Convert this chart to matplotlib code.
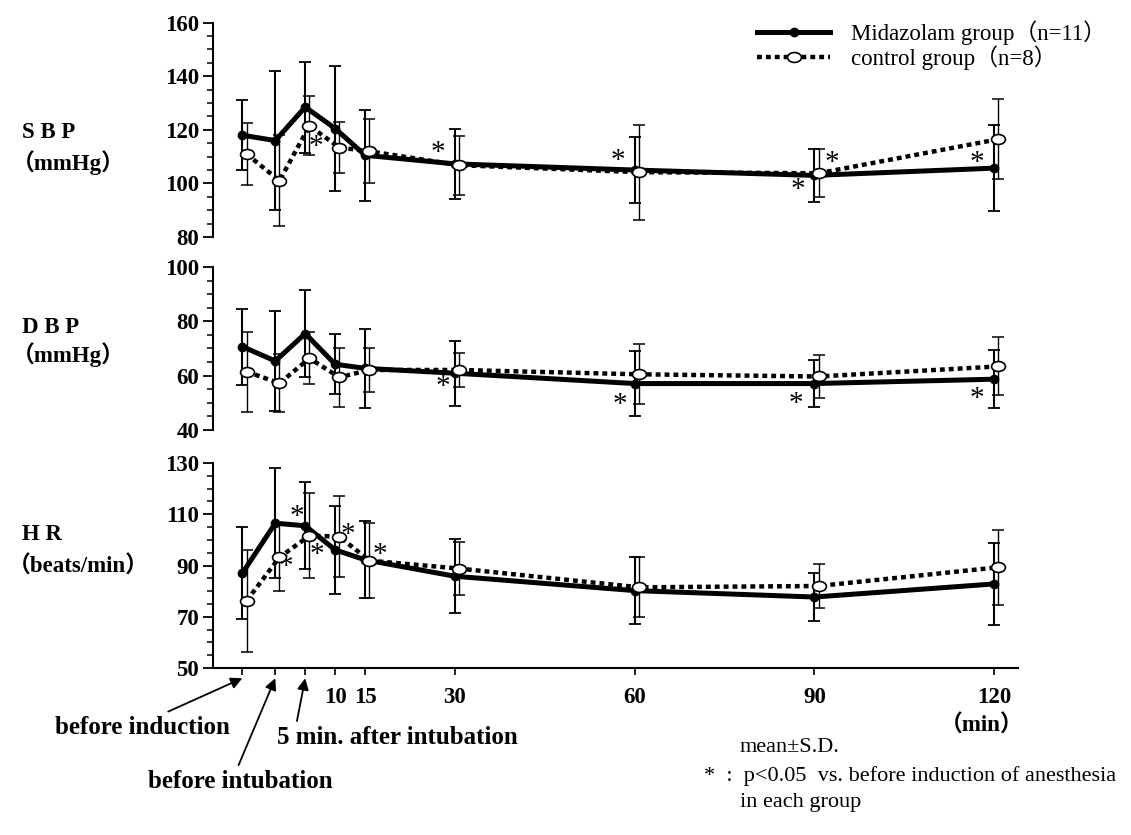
import matplotlib
matplotlib.use("Agg")
import matplotlib.pyplot as plt
import numpy as np
from matplotlib.lines import Line2D
from matplotlib.path import Path
from matplotlib.transforms import Affine2D
from matplotlib.ticker import MultipleLocator

# время: до индукции, до интубации, 5 мин после, 10 ... 120 мин
time_pos = [-5.5, 0, 5, 10, 15, 30, 60, 90, 120]
time_labels = ["", "", "", "10", "15", "30", "60", "90", "120"]

sbp_mid = [118, 116, 128.5, 120.5, 110.5, 107.3, 105, 103, 105.7]
sbp_mid_sd = [13, 26, 17, 23.5, 17, 13, 12.3, 10, 16]
sbp_ctl = [111, 101, 121.5, 113.4, 112, 106.8, 104.2, 103.8, 116.5]
sbp_ctl_sd = [11.5, 17, 11, 9.6, 12, 11, 17.7, 9, 15]

dbp_mid = [70.7, 65.4, 75.5, 64.2, 62.7, 60.9, 57.1, 57.1, 58.7]
dbp_mid_sd = [14, 18.5, 16, 11, 14.5, 12, 12, 8.5, 10.6]
dbp_ctl = [61.5, 57.2, 66.4, 59.4, 62.1, 62.1, 60.5, 59.7, 63.4]
dbp_ctl_sd = [14.7, 10.7, 9.6, 10.8, 8, 6.3, 11, 7.8, 10.7]

hr_mid = [87, 106.5, 105.5, 96.1, 92.2, 85.8, 80.2, 77.7, 82.8]
hr_mid_sd = [18, 21.5, 17, 17.3, 15, 14.5, 13, 9.5, 16]
hr_ctl = [76.2, 93.2, 101.6, 101.3, 91.9, 88.8, 81.5, 82, 89.3]
hr_ctl_sd = [20, 13, 16.5, 15.7, 14.7, 10.3, 11.7, 8.4, 14.6]

# звёздочки p<0.05 (x, y)
sbp_stars = [(6.8, 113.6), (27.2, 111.3), (57.2, 108.4), (87.2, 97.5), (93, 107.6), (117.2, 107.6)]
dbp_stars = [(28, 55.8), (57.5, 49.2), (87, 49.5), (117.2, 51.4)]
hr_stars = [(3.6, 109.1), (1.8, 89.6), (6.9, 94.1), (12.2, 102), (17.5, 94.1)]

W, H = 1131, 835
SERIF = ["Liberation Serif", "Noto Sans CJK JP", "DejaVu Sans"]
CTL_SHIFT = 0.7   # контрольная группа чуть сдвинута вправо, как на оригинале
ellipse = Path.unit_circle().transformed(Affine2D().scale(1.4, 1.0))


def fx(px):
    return px / W


def fy(py):
    return 1 - py / H


def panel(rect, mid, mid_sd, ctl, ctl_sd, ylim, stars, bottom=False):
    ax = fig.add_axes(rect)
    x = np.array(time_pos)
    ax.errorbar(x, mid, yerr=mid_sd, fmt="none", ecolor="black",
                elinewidth=1.5, capsize=4, capthick=1.3, zorder=2)
    ax.errorbar(x + CTL_SHIFT, ctl, yerr=ctl_sd, fmt="none", ecolor="black",
                elinewidth=1.0, capsize=4, capthick=1.1, zorder=2)
    ax.plot(x, mid, color="black", lw=3.6, marker="o", ms=6,
            mfc="black", mec="black", zorder=3)
    ax.plot(x + CTL_SHIFT, ctl, color="black", lw=3.2, ls=(0, (1.1, 0.9)),
            marker=ellipse, ms=10, mfc="white", mec="black", mew=1.2, zorder=4)
    for sx, sy in stars:
        ax.text(sx, sy, "*", fontsize=21, family=SERIF, ha="center", va="center")
    ax.set_xlim(-10.4, 124)
    ax.set_ylim(*ylim)
    ax.set_yticks(np.arange(ylim[0], ylim[1] + 1, 20))
    ax.yaxis.set_minor_locator(MultipleLocator(5))
    ax.tick_params(axis="y", which="major", direction="out", length=7, width=1.3, pad=3)
    ax.tick_params(axis="y", which="minor", direction="out", length=4, width=1.1)
    for lab in ax.get_yticklabels():
        lab.set_fontfamily(SERIF)
        lab.set_fontweight("bold")
        lab.set_fontsize(16.5)
    for s in ("top", "right"):
        ax.spines[s].set_visible(False)
    ax.spines["left"].set_linewidth(1.5)
    if bottom:
        ax.spines["bottom"].set_linewidth(1.5)
        ax.set_xticks(time_pos)
        ax.set_xticklabels(time_labels, fontfamily=SERIF, fontweight="bold", fontsize=16.5)
        ax.tick_params(axis="x", direction="out", length=5, width=1.2, pad=9)
    else:
        ax.spines["bottom"].set_visible(False)
        ax.set_xticks([])
    ax.patch.set_alpha(0)
    return ax


fig = plt.figure(figsize=(W / 100, H / 100), dpi=100)

left, width = fx(213), fx(1018) - fx(213)
panel([left, fy(237), width, fy(22.7) - fy(237)], sbp_mid, sbp_mid_sd, sbp_ctl, sbp_ctl_sd,
      (80, 160), sbp_stars)
panel([left, fy(430), width, fy(267) - fy(430)], dbp_mid, dbp_mid_sd, dbp_ctl, dbp_ctl_sd,
      (40, 100), dbp_stars)
ax_hr = panel([left, fy(668), width, fy(463) - fy(668)], hr_mid, hr_mid_sd, hr_ctl, hr_ctl_sd,
              (50, 130), hr_stars, bottom=True)

# подписи осей слева
lab_kw = dict(family=SERIF, fontweight="bold", fontsize=16.5, ha="left", va="center")
fig.text(fx(22), fy(133), "S B P", **lab_kw)
fig.text(fx(12), fy(163), "（mmHg）", **lab_kw)
fig.text(fx(22), fy(328), "D B P", **lab_kw)
fig.text(fx(12), fy(355), "（mmHg）", **lab_kw)
fig.text(fx(22), fy(534), "H R", **lab_kw)
fig.text(fx(8), fy(567), "（beats/min）", **lab_kw)

fig.text(fx(982), fy(726), "（min）", family=SERIF, fontweight="bold", fontsize=16.5,
         ha="center", va="center")

# стрелки к первым трём точкам
xt = ax_hr.get_xaxis_transform()
arrow = dict(arrowstyle="-|>", color="black", lw=1.3, mutation_scale=17, shrinkA=2, shrinkB=0)
for (i, label, tx, ty, rel) in [(0, "before induction", 142, 727, (0.6, 1.0)),
                                (1, "before intubation", 240, 782, (0.48, 1.0)),
                                (2, "5 min. after intubation", 397, 738, (0.08, 1.0))]:
    ax_hr.annotate(label, xy=(time_pos[i], -0.05), xycoords=xt,
                   xytext=(fx(tx), fy(ty)), textcoords="figure fraction",
                   ha="center", va="center", fontsize=18, fontweight="bold", family=SERIF,
                   arrowprops=dict(arrow, relpos=rel))

# легенда
handles = [Line2D([0], [0], color="black", lw=3.6, marker="o", ms=6, mfc="black"),
           Line2D([0], [0], color="black", lw=3.2, ls=(0, (1.1, 0.9)), marker=ellipse,
                  ms=10, mfc="white", mec="black", mew=1.2)]
fig.legend(handles, ["Midazolam group（n=11）", "control group（n=8）"],
           loc="upper left", bbox_to_anchor=(fx(757), fy(20)), frameon=False,
           prop=dict(family=SERIF, size=16.5), handlelength=3.2, handletextpad=0.9,
           labelspacing=0.05, borderpad=0, borderaxespad=0)

note_kw = dict(family=SERIF, fontsize=16, ha="left", va="center")
fig.text(fx(740), fy(748), "mean±S.D.", **note_kw)
fig.text(fx(704), fy(776), "*  :  p<0.05  vs. before induction of anesthesia", **note_kw)
fig.text(fx(740), fy(803), "in each group", **note_kw)

fig.savefig("out.png", dpi=100)
